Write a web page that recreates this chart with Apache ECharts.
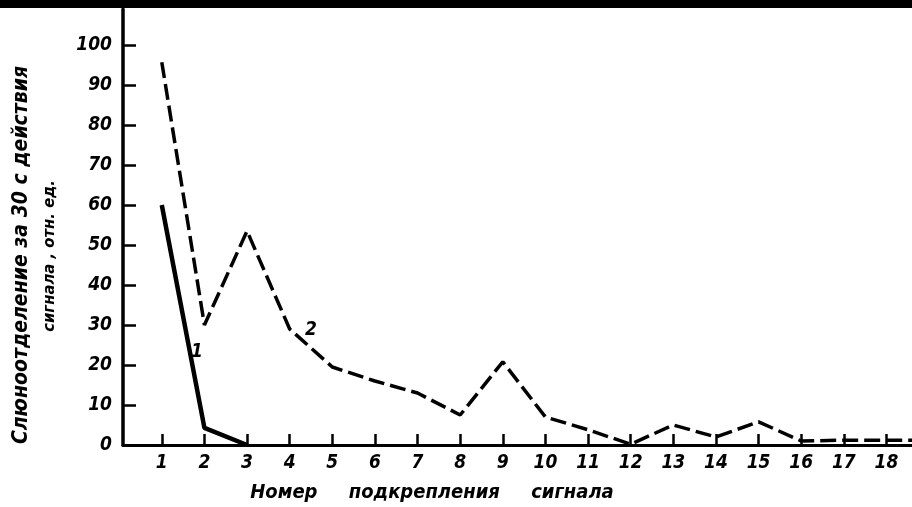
<!DOCTYPE html>
<html>
<head>
<meta charset="utf-8">
<script src="https://cdn.jsdelivr.net/npm/echarts@6/dist/echarts.min.js"></script>
<style>
  html, body { margin: 0; padding: 0; background: #fff; }
  #chart { width: 912px; height: 507px; }
</style>
</head>
<body>
<div id="chart"></div>
<script>
// номер подкрепления
const reinforcements = [1, 2, 3, 4, 5, 6, 7, 8, 9, 10, 11, 12, 13, 14, 15, 16, 17, 18];
// кривая 1 (сплошная)
const curve1X = [1, 2, 3];
const curve1Y = [60, 4.3, 0];
// кривая 2 (штриховая), последняя точка - край рисунка
const curve2X = [1, 2, 3, 4, 5, 6, 7, 8, 9, 10, 11, 12, 13, 14, 15, 16, 17, 18, 18.6];
const curve2Y = [95.7, 30, 53.5, 29, 19.5, 16, 13, 7.5, 20.8, 7, 3.8, 0.2, 5, 2, 5.8, 1, 1.2, 1.2, 1.2];
const yTicks = [0, 10, 20, 30, 40, 50, 60, 70, 80, 90, 100];

const font = "DejaVu Sans Condensed";
const labelStyle = {
    color: "#000",
    fontFamily: font,
    fontStyle: "italic",
    fontWeight: "bold",
    fontSize: 19
};

const zip = (xs, ys) => xs.map((x, i) => [x, ys[i]]);

const chart = echarts.init(document.getElementById("chart"));
chart.setOption({
    animation: false,
    backgroundColor: "#fff",
    grid: { left: 123, right: 0, top: 9, bottom: 62 },
    xAxis: {
        type: "value",
        min: 0.09,
        max: 18.6,
        axisLine: { lineStyle: { color: "#000", width: 3 } },
        axisTick: {
            inside: true, length: 11, customValues: reinforcements,
            lineStyle: { color: "#000", width: 2.5 }
        },
        splitLine: { show: false },
        axisLabel: Object.assign({}, labelStyle, {
            margin: 9,
            customValues: reinforcements
        })
    },
    yAxis: {
        type: "value",
        min: 0,
        max: 109,
        axisLine: { lineStyle: { color: "#000", width: 3.5 } },
        axisTick: {
            inside: true, length: 13, customValues: yTicks,
            lineStyle: { color: "#000", width: 2.5 }
        },
        splitLine: { show: false },
        axisLabel: Object.assign({}, labelStyle, {
            margin: 11,
            customValues: yTicks
        })
    },
    series: [
        {
            name: "1",
            type: "line",
            data: zip(curve1X, curve1Y),
            symbol: "none",
            lineStyle: { color: "#000", width: 4.5 }
        },
        {
            name: "2",
            type: "line",
            data: zip(curve2X, curve2Y),
            symbol: "none",
            lineStyle: { color: "#000", width: 3.5, type: [16, 6] }
        }
    ],
    graphic: [
        {
            type: "rect",
            left: 0, top: 0,
            shape: { width: 912, height: 8 },
            style: { fill: "#000" }
        },
        {
            type: "text",
            x: 22, y: 255,
            rotation: Math.PI / 2,
            style: Object.assign({}, labelStyle, {
                text: "Слюноотделение за 30 с действия",
                fontSize: 21,
                fill: "#000",
                align: "center",
                verticalAlign: "middle"
            })
        },
        {
            type: "text",
            x: 50, y: 256,
            rotation: Math.PI / 2,
            style: Object.assign({}, labelStyle, {
                text: "сигнала , отн. ед.",
                fontSize: 16.5,
                fill: "#000",
                align: "center",
                verticalAlign: "middle"
            })
        },
        {
            type: "text",
            x: 432, y: 493,
            style: Object.assign({}, labelStyle, {
                text: "Номер     подкрепления     сигнала",
                fontSize: 20,
                fill: "#000",
                align: "center",
                verticalAlign: "middle"
            })
        },
        {
            type: "text",
            x: 197, y: 352,
            style: Object.assign({}, labelStyle, {
                text: "1", fill: "#000", align: "center", verticalAlign: "middle"
            })
        },
        {
            type: "text",
            x: 311, y: 330,
            style: Object.assign({}, labelStyle, {
                text: "2", fill: "#000", align: "center", verticalAlign: "middle"
            })
        }
    ]
});
</script>
</body>
</html>
